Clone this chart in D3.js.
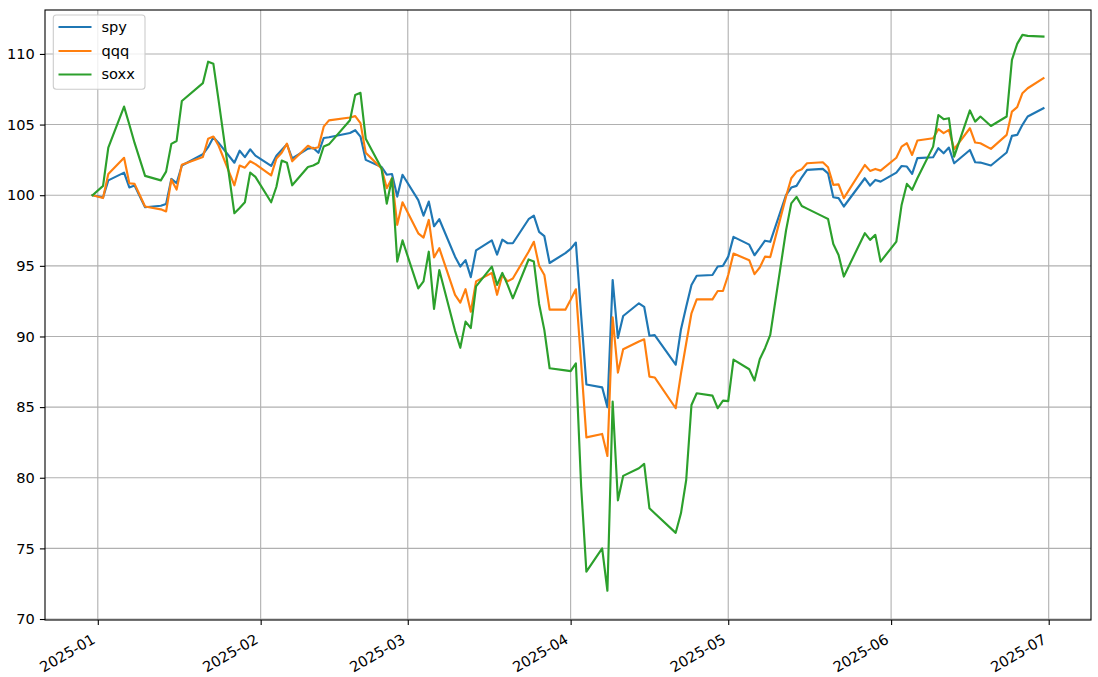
<!DOCTYPE html>
<html>
<head>
<meta charset="utf-8">
<script src="https://cdn.jsdelivr.net/npm/d3@7/dist/d3.min.js"></script>
<style>
  html, body { margin: 0; padding: 0; background: #fff; }
  svg { display: block; }
  text { font-family: "DejaVu Sans", sans-serif; }
</style>
</head>
<body>
<svg id="chart" width="1098" height="677"></svg>
<script>
// ---- data (normalised to 100 on the first trading day) ----
const dates = [
  "2024-12-31",
  "2025-01-02","2025-01-03","2025-01-06","2025-01-07","2025-01-08","2025-01-10","2025-01-13","2025-01-14","2025-01-15","2025-01-16","2025-01-17","2025-01-21","2025-01-22","2025-01-23","2025-01-24","2025-01-27","2025-01-28","2025-01-29","2025-01-30","2025-01-31",
  "2025-02-03","2025-02-04","2025-02-05","2025-02-06","2025-02-07","2025-02-10","2025-02-11","2025-02-12","2025-02-13","2025-02-14","2025-02-18","2025-02-19","2025-02-20","2025-02-21","2025-02-24","2025-02-25","2025-02-26","2025-02-27","2025-02-28",
  "2025-03-03","2025-03-04","2025-03-05","2025-03-06","2025-03-07","2025-03-10","2025-03-11","2025-03-12","2025-03-13","2025-03-14","2025-03-17","2025-03-18","2025-03-19","2025-03-20","2025-03-21","2025-03-24","2025-03-25","2025-03-26","2025-03-27","2025-03-28","2025-03-31",
  "2025-04-01","2025-04-02","2025-04-03","2025-04-04","2025-04-07","2025-04-08","2025-04-09","2025-04-10","2025-04-11","2025-04-14","2025-04-15","2025-04-16","2025-04-17","2025-04-21","2025-04-22","2025-04-23","2025-04-24","2025-04-25","2025-04-28","2025-04-29","2025-04-30",
  "2025-05-01","2025-05-02","2025-05-05","2025-05-06","2025-05-07","2025-05-08","2025-05-09","2025-05-12","2025-05-13","2025-05-14","2025-05-15","2025-05-16","2025-05-19","2025-05-20","2025-05-21","2025-05-22","2025-05-23","2025-05-27","2025-05-28","2025-05-29","2025-05-30",
  "2025-06-02","2025-06-03","2025-06-04","2025-06-05","2025-06-06","2025-06-09","2025-06-10","2025-06-11","2025-06-12","2025-06-13","2025-06-16","2025-06-17","2025-06-18","2025-06-20","2025-06-23","2025-06-24","2025-06-25","2025-06-26","2025-06-27","2025-06-30"
];

const spy = [
  100,
  99.85,101.05,101.6,100.55,100.68,99.15,99.25,99.38,101.15,100.85,102.1,102.9,103.4,104.1,103.7,102.3,103.15,102.7,103.25,102.8,
  102.07,102.8,103.2,103.6,102.6,103.3,103.35,103.0,104.05,104.1,104.4,104.6,104.15,102.5,102.0,101.45,101.5,99.9,101.45,
  99.65,98.55,99.55,97.8,98.3,95.65,94.95,95.4,94.2,96.1,96.8,95.8,96.85,96.6,96.6,98.3,98.55,97.4,97.1,95.2,95.9,
  96.2,96.65,91.5,86.6,86.4,85.0,94.0,89.9,91.45,92.35,92.1,90.05,90.1,88.0,90.5,92.1,93.65,94.3,94.35,94.95,95.0,
  95.65,97.05,96.5,95.75,96.25,96.78,96.7,100.0,100.54,100.66,101.27,101.79,101.86,101.55,99.86,99.79,99.2,101.2,100.68,101.08,100.96,
  101.6,102.07,102.03,101.51,102.62,102.69,103.33,102.97,103.37,102.26,103.2,102.33,102.31,102.1,103.02,104.2,104.27,104.98,105.57,106.16
];

const qqq = [
  100,
  99.8,101.5,102.65,100.85,100.8,99.2,99.0,98.85,101.1,100.4,102.15,102.7,104.0,104.15,103.5,100.7,102.1,101.95,102.4,102.2,
  101.4,102.6,103.0,103.65,102.4,103.5,103.3,103.4,104.85,105.3,105.5,105.6,105.1,103.0,101.9,100.5,101.2,97.9,99.5,
  97.3,97.0,98.25,95.6,96.25,92.95,92.4,93.35,91.75,93.9,94.5,92.95,94.35,93.9,94.1,96.0,96.7,95.0,94.35,91.9,91.9,
  92.6,93.34,88.1,82.86,83.1,81.54,91.36,87.44,89.09,89.64,89.8,87.16,87.1,84.92,87.35,89.52,91.64,92.63,92.63,93.22,93.22,
  94.35,95.87,95.4,94.41,94.88,95.65,95.62,99.9,101.2,101.67,101.84,102.26,102.33,101.98,100.73,100.77,99.79,102.14,101.72,101.86,101.74,
  102.65,103.44,103.68,102.85,103.87,104.03,104.67,104.39,104.62,103.26,104.74,103.73,103.68,103.28,104.27,105.92,106.23,107.22,107.57,108.28
];

const soxx = [
  100,
  100.66,103.37,106.27,105.0,103.7,101.37,101.05,101.67,103.63,103.84,106.67,107.93,109.45,109.3,106.7,98.72,99.1,99.5,101.6,101.3,
  99.5,100.6,102.45,102.3,100.7,102.0,102.1,102.3,103.45,103.6,105.3,107.1,107.25,104.0,101.9,99.4,101.2,95.3,96.8,
  93.4,93.9,96.0,91.95,94.7,90.4,89.2,91.05,90.6,93.55,94.95,93.65,94.5,93.65,92.7,95.45,95.3,92.3,90.45,87.75,87.6,
  87.55,88.1,79.4,73.35,75.0,72.0,85.4,78.4,80.13,80.67,80.98,77.84,77.48,76.1,77.48,79.84,85.15,85.98,85.81,84.92,85.46,
  85.42,88.36,87.68,86.88,88.39,89.17,90.11,97.5,99.42,99.88,99.24,99.05,98.5,98.32,96.55,95.77,94.24,97.31,96.84,97.19,95.3,
  96.72,99.31,100.8,100.38,101.2,103.44,105.68,105.38,105.45,102.73,106.0,105.21,105.57,104.9,105.57,109.58,110.71,111.35,111.28,111.23
];

const seriesNames = ["spy", "qqq", "soxx"];
const seriesColors = ["#1f77b4", "#ff7f0e", "#2ca02c"];
const xTickLabels = ["2025-01","2025-02","2025-03","2025-04","2025-05","2025-06","2025-07"];
const yTickValues = [70, 75, 80, 85, 90, 95, 100, 105, 110];

// ---- layout ----
const W = 1098, H = 677;
const plot = { left: 45, right: 1091, top: 10, bottom: 620 };
const fontSize = 14.6;

const parse = d3.timeParse("%Y-%m-%d");
const parseMonth = d3.timeParse("%Y-%m");
const xDates = dates.map(parse);
const seriesValues = [spy, qqq, soxx];

const t0 = xDates[0], t1 = xDates[xDates.length - 1];
const span = t1 - t0;
const x = d3.scaleTime()
  .domain([new Date(+t0 - span * 0.05), new Date(+t1 + span * 0.05)])
  .range([plot.left, plot.right]);
const y = d3.scaleLinear()
  .domain([69.93, 113.11])
  .range([plot.bottom, plot.top]);

const svg = d3.select("#chart");
svg.append("rect").attr("width", W).attr("height", H).attr("fill", "#fff");

const tickDates = xTickLabels.map(parseMonth);

// grid
const grid = svg.append("g").attr("class", "grid");
grid.selectAll("line.gx").data(tickDates).join("line")
  .attr("x1", d => x(d)).attr("x2", d => x(d))
  .attr("y1", plot.top).attr("y2", plot.bottom)
  .attr("stroke", "#b0b0b0").attr("stroke-width", 1.1);
grid.selectAll("line.gy").data(yTickValues).join("line")
  .attr("x1", plot.left).attr("x2", plot.right)
  .attr("y1", d => y(d)).attr("y2", d => y(d))
  .attr("stroke", "#b0b0b0").attr("stroke-width", 1.1);

// lines
svg.append("clipPath").attr("id", "clip").append("rect")
  .attr("x", plot.left).attr("y", plot.top)
  .attr("width", plot.right - plot.left).attr("height", plot.bottom - plot.top);

const lineGen = vals => d3.line()
  .x((d, i) => x(xDates[i]))
  .y(d => y(d))(vals);

svg.append("g").attr("clip-path", "url(#clip)")
  .selectAll("path").data(seriesValues).join("path")
  .attr("d", d => lineGen(d))
  .attr("fill", "none")
  .attr("stroke", (d, i) => seriesColors[i])
  .attr("stroke-width", 2.15)
  .attr("stroke-linejoin", "round")
  .attr("stroke-linecap", "square");

// axes
const tickLen = 5.1, pad = 5.1;
const xAxis = d3.axisBottom(x)
  .tickValues(tickDates)
  .tickFormat(d3.timeFormat("%Y-%m"))
  .tickSize(tickLen).tickSizeOuter(0).tickPadding(pad);
const gx = svg.append("g").attr("transform", `translate(0,${plot.bottom})`).call(xAxis);
gx.select(".domain").remove();
gx.selectAll(".tick line").attr("stroke", "#000").attr("stroke-width", 1.1);
gx.selectAll(".tick text")
  .attr("font-size", fontSize)
  .attr("fill", "#000")
  .attr("text-anchor", "end")
  .attr("dy", null)
  .attr("y", null)
  .attr("transform", `translate(-1.9,${22.3}) rotate(-30)`);

const yAxis = d3.axisLeft(y)
  .tickValues(yTickValues)
  .tickFormat(d3.format("d"))
  .tickSize(tickLen).tickSizeOuter(0).tickPadding(pad);
const gy = svg.append("g").attr("transform", `translate(${plot.left},0)`).call(yAxis);
gy.select(".domain").remove();
gy.selectAll(".tick line").attr("stroke", "#000").attr("stroke-width", 1.1);
gy.selectAll(".tick text").attr("font-size", fontSize).attr("fill", "#000");

// frame
svg.append("rect")
  .attr("x", plot.left).attr("y", plot.top)
  .attr("width", plot.right - plot.left).attr("height", plot.bottom - plot.top)
  .attr("fill", "none").attr("stroke", "#000").attr("stroke-width", 1.1);

// legend
const lg = svg.append("g");
lg.append("rect")
  .attr("x", 53.3).attr("y", 15).attr("width", 91.7).attr("height", 74.3)
  .attr("rx", 3).attr("ry", 3)
  .attr("fill", "#fff").attr("fill-opacity", 0.8)
  .attr("stroke", "#cccccc").attr("stroke-width", 1.1);
const rowY = [27, 51, 74.5];
const items = lg.selectAll("g.item").data(seriesNames).join("g").attr("class", "item");
items.append("line")
  .attr("x1", 58.5).attr("x2", 91.5)
  .attr("y1", (d, i) => rowY[i]).attr("y2", (d, i) => rowY[i])
  .attr("stroke", (d, i) => seriesColors[i]).attr("stroke-width", 2.15);
items.append("text")
  .attr("x", 101.5).attr("y", (d, i) => rowY[i])
  .attr("dy", "0.32em")
  .attr("font-size", fontSize)
  .attr("fill", "#000")
  .text(d => d);
</script>
</body>
</html>
